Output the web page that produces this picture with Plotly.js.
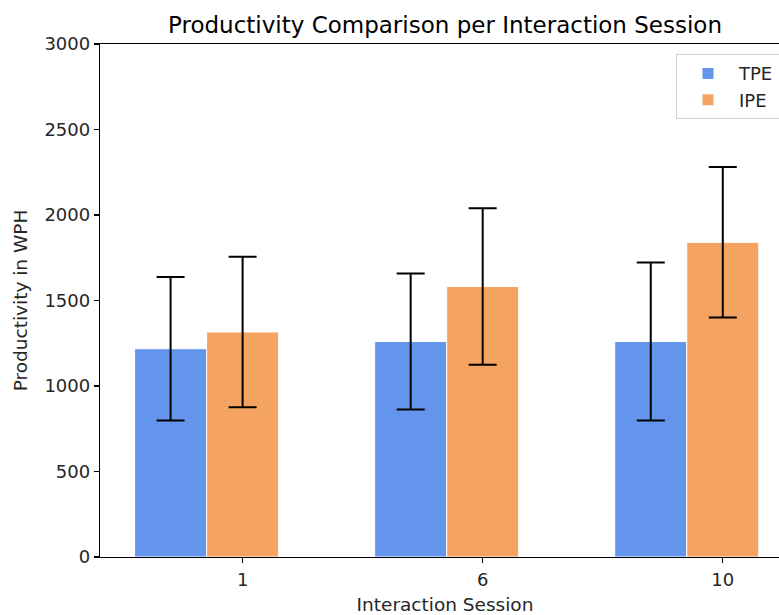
<!DOCTYPE html>
<html>
<head>
<meta charset="utf-8">
<script src="https://cdn.plot.ly/plotly-3.0.1.min.js"></script>
<style>
html,body{margin:0;padding:0;overflow:hidden;background:#fff;}
#chart{width:800px;height:615px;}
</style>
</head>
<body>
<div id="chart"></div>
<script>
// Data
const sessions = ["1", "6", "10"];
const tpeMean = [1218, 1260, 1260];
const tpeErr = [420, 398, 462];
const ipeMean = [1316, 1582, 1840];
const ipeErr = [440, 457, 440];
const seriesNames = ["TPE", "IPE"];
const yTicks = [0, 500, 1000, 1500, 2000, 2500, 3000];

const font = "DejaVu Sans, sans-serif";
const textColor = "#262626";
const errStyle = {type: "data", visible: true, color: "#000", thickness: 2, width: 14};

const traces = [
  {
    type: "bar", name: seriesNames[0], x: sessions, y: tpeMean,
    width: 0.3, offset: -0.45,
    marker: {color: "#6495ED", line: {color: "#ffffff", width: 1}},
    error_y: Object.assign({array: tpeErr}, errStyle)
  },
  {
    type: "bar", name: seriesNames[1], x: sessions, y: ipeMean,
    width: 0.3, offset: -0.15,
    marker: {color: "#F4A460", line: {color: "#ffffff", width: 1}},
    error_y: Object.assign({array: ipeErr}, errStyle)
  }
];

const layout = {
  width: 800, height: 615,
  margin: {l: 100, r: 10, t: 44, b: 58, pad: 0},
  paper_bgcolor: "#fff", plot_bgcolor: "#fff",
  barmode: "overlay",
  font: {family: font, color: textColor, size: 18},
  title: {
    text: "Productivity Comparison per Interaction Session",
    font: {family: font, size: 23, color: "#000"},
    x: 445 / 800, xanchor: "center", xref: "container",
    y: 1 - 25 / 615, yanchor: "middle", yref: "container"
  },
  xaxis: {
    type: "category",
    range: [-0.594, 2.28],
    showline: true, linecolor: "#000", linewidth: 1.2, mirror: true,
    ticks: "outside", ticklen: 5, tickwidth: 1.2, tickcolor: "#000",
    ticklabelstandoff: 1,
    showgrid: false, zeroline: false,
    tickfont: {family: font, size: 18, color: textColor},
    title: {text: "Interaction Session", font: {family: font, size: 18.5, color: textColor}, standoff: 10}
  },
  yaxis: {
    range: [0, 3000],
    tickvals: yTicks,
    showline: true, linecolor: "#000", linewidth: 1.2, mirror: true,
    ticks: "outside", ticklen: 5, tickwidth: 1.2, tickcolor: "#000",
    showgrid: false, zeroline: false,
    tickfont: {family: font, size: 18, color: textColor},
    title: {text: "Productivity in WPH", font: {family: font, size: 18.5, color: textColor}, standoff: 12}
  },
  legend: {
    x: 0.9855, xanchor: "right", y: 0.98, yanchor: "top",
    bgcolor: "rgba(255,255,255,0.8)", bordercolor: "#d0d0d0", borderwidth: 1,
    font: {family: font, size: 18, color: textColor},
    itemwidth: 52
  },
  showlegend: true
};

Plotly.newPlot("chart", traces, layout, {displayModeBar: false, staticPlot: true});
</script>
</body>
</html>
